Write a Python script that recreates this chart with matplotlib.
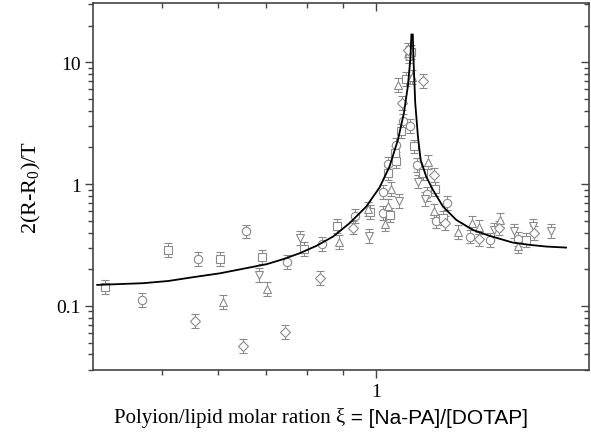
import numpy as np
import matplotlib
matplotlib.use("Agg")
import matplotlib.pyplot as plt
from matplotlib.ticker import FixedLocator, NullFormatter, FixedFormatter

plt.rcParams['mathtext.fontset'] = 'custom'
plt.rcParams['mathtext.rm'] = 'Liberation Serif'
plt.rcParams['mathtext.it'] = 'Liberation Serif:italic'

# data: (xi, 2(R-R0)/T)
circ_x = [0.469, 0.562, 0.656, 0.749, 0.840, 0.934, 1.024, 1.024, 1.041, 1.069,
          1.092, 1.118, 1.116, 1.143, 1.181, 1.260, 1.216, 1.356, 1.447, 1.586]
circ_y = [0.112, 0.242, 0.408, 0.2275, 0.323, 0.549, 0.577, 0.864, 1.469, 2.085,
          3.272, 2.977, 11.35, 1.441, 0.824, 0.698, 0.494, 0.371, 0.348, 0.353]

sq_x = [0.416, 0.510, 0.603, 0.691, 0.792, 0.881, 0.981, 1.046, 1.041, 1.069,
        1.066, 1.084, 1.131, 1.103, 1.122, 1.166, 1.214, 1.244, 1.629]
sq_y = [0.144, 0.288, 0.243, 0.250, 0.294, 0.450, 0.586, 0.559, 1.239, 1.534,
        1.792, 2.708, 2.038, 7.345, 12.24, 1.232, 0.915, 0.528, 0.348]

up_x = [0.609, 0.703, 0.888, 0.974, 1.030, 1.040, 1.052, 1.075, 1.124, 1.113,
        1.185, 1.210, 1.305, 1.367, 1.400, 1.496, 1.589]
up_y = [0.107, 0.138, 0.332, 0.626, 0.467, 0.663, 0.906, 6.554, 7.554, 12.0,
        1.51, 0.597, 0.402, 0.478, 0.441, 0.504, 0.308]

dn_x = [0.685, 0.782, 0.978, 1.078, 1.147, 1.172, 1.470, 1.566, 1.664, 1.766]
dn_y = [0.178, 0.358, 0.372, 0.729, 1.05, 0.75, 0.421, 0.415, 0.450, 0.413]

dia_x = [0.557, 0.650, 0.744, 0.836, 0.929, 1.090, 1.166, 1.109, 1.210, 1.251,
         1.398, 1.491, 1.673]
dia_y = [0.0747, 0.0468, 0.0607, 0.169, 0.440, 4.636, 7.004, 12.72, 1.181, 0.478,
         0.355, 0.435, 0.394]

# fitted curve, points (left and right branch)
fit_left_x = [0.405, 0.470, 0.510, 0.553, 0.603, 0.657, 0.702, 0.741, 0.782, 0.825,
              0.871, 0.919, 0.970, 1.013, 1.046, 1.075, 1.096, 1.110, 1.119, 1.123]
fit_left_y = [0.1486, 0.1535, 0.160, 0.172, 0.185, 0.204, 0.220, 0.242, 0.271, 0.311,
              0.371, 0.478, 0.654, 0.941, 1.395, 2.314, 3.837, 6.35, 10.52, 16.9]
fit_right_x = [1.128, 1.132, 1.137, 1.147, 1.157, 1.178, 1.204, 1.244, 1.299, 1.370,
               1.447, 1.560, 1.647, 1.739, 1.855]
fit_right_y = [16.9, 8.71, 4.64, 2.462, 1.585, 1.155, 0.898, 0.654, 0.508, 0.421,
               0.376, 0.331, 0.317, 0.307, 0.301]

err_factor = 1.14
grey = '#8a8a8a'

fig = plt.figure(figsize=(5.91, 4.35), dpi=100)
ax = fig.add_axes([0.158, 0.147, 0.839, 0.843])

series = [(circ_x, circ_y, 'o'), (sq_x, sq_y, 's'), (up_x, up_y, '^'),
          (dn_x, dn_y, 'v'), (dia_x, dia_y, 'D')]
for xs, ys, m in series:
    ys = np.array(ys)
    yerr = [ys - ys / err_factor, ys * err_factor - ys]
    ms = 5.2 if m == 'D' else 6
    ax.errorbar(xs, ys, yerr=yerr, fmt=m, mfc='white', mec=grey, mew=0.8,
                ms=ms, ecolor=grey, elinewidth=0.7, capsize=3, capthick=0.8,
                zorder=2)

ax.plot(fit_left_x, fit_left_y, color='black', lw=1.3, zorder=3)
ax.plot(fit_right_x, fit_right_y, color='black', lw=1.3, zorder=3)

ax.set_xscale('log')
ax.set_yscale('log')
ax.set_xlim(0.4, 2.0)
ax.set_ylim(0.0297, 30.5)

ax.xaxis.set_major_locator(FixedLocator([1]))
ax.xaxis.set_major_formatter(FixedFormatter(['1']))
ax.xaxis.set_minor_locator(FixedLocator([0.5, 0.6, 0.7, 0.8, 0.9]))
ax.xaxis.set_minor_formatter(NullFormatter())
ax.yaxis.set_major_locator(FixedLocator([0.1, 1, 10]))
ax.yaxis.set_major_formatter(FixedFormatter(['0.1', '1', '10']))
ymin = [k * 10.0 ** e for e in (-2, -1, 0, 1) for k in range(2, 10)]
ax.yaxis.set_minor_locator(FixedLocator(ymin))
ax.yaxis.set_minor_formatter(NullFormatter())

for s in ax.spines.values():
    s.set_linewidth(1.2)
    s.set_color('#444444')
ax.tick_params(which='both', direction='out', color='#444444', width=1.0,
               labelsize=14, pad=3)
ax.tick_params(which='major', length=6)
ax.tick_params(which='minor', length=3.5)
for lab in ax.get_xticklabels() + ax.get_yticklabels():
    lab.set_family('Liberation Serif')

# inward mirror ticks on top and right
axt = ax.twiny()
axt.set_xscale('log')
axt.set_xlim(ax.get_xlim())
axt.xaxis.set_major_locator(FixedLocator([1]))
axt.xaxis.set_minor_locator(FixedLocator([0.5, 0.6, 0.7, 0.8, 0.9]))
axt.xaxis.set_major_formatter(NullFormatter())
axt.xaxis.set_minor_formatter(NullFormatter())
axr = ax.twinx()
axr.set_yscale('log')
axr.set_ylim(ax.get_ylim())
axr.yaxis.set_major_locator(FixedLocator([0.1, 1, 10]))
axr.yaxis.set_minor_locator(FixedLocator(ymin))
axr.yaxis.set_major_formatter(NullFormatter())
axr.yaxis.set_minor_formatter(NullFormatter())
for a in (axt, axr):
    for s in a.spines.values():
        s.set_visible(False)
    a.tick_params(which='both', direction='in', color='#444444', width=1.0)
    a.tick_params(which='major', length=6)
    a.tick_params(which='minor', length=3.5)

ax.set_ylabel('2(R-R$_0$)/T', family='Liberation Serif', fontsize=16, labelpad=10)

t1 = fig.text(0.193, 0.027, 'Polyion/lipid molar ration \u03be', family='Liberation Serif',
              fontsize=15, ha='left', va='baseline')
ax.annotate(' = [Na-PA]/[DOTAP]', xy=(1, 0), xycoords=t1, family='Liberation Sans',
            fontsize=15, ha='left', va='bottom', annotation_clip=False)

fig.savefig('out.png', dpi=100)
